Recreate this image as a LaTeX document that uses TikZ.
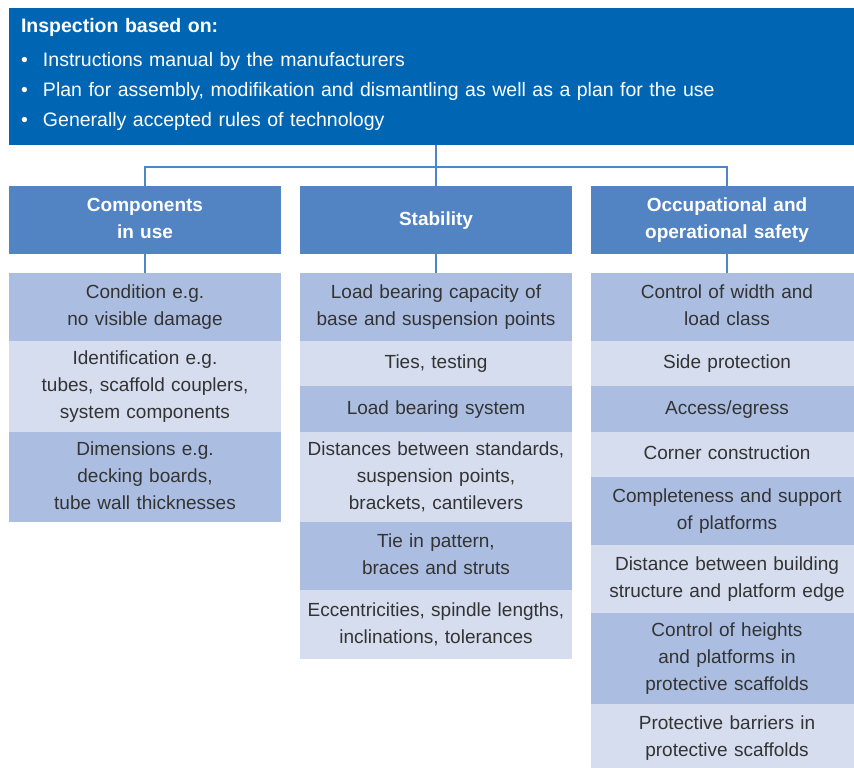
\documentclass[tikz,border=0pt]{standalone}
\usepackage{fontspec}
\setmainfont{Liberation Sans}
\usepackage{tikz}
\usetikzlibrary{positioning}
\definecolor{topblue}{RGB}{0,102,179}
\definecolor{headblue}{RGB}{82,132,196}
\definecolor{itemdark}{RGB}{171,190,226}
\definecolor{itemlight}{RGB}{213,221,239}
\definecolor{linkblue}{RGB}{74,136,200}
\definecolor{itemtext}{RGB}{51,51,51}

\begin{document}
\begin{tikzpicture}[
  x=1pt,y=-1pt,
  node distance=0pt,
  every node/.style={inner sep=0pt,outer sep=0pt},
  top/.style={fill=topblue,text=white,minimum width=870pt,minimum height=137pt,
    text width=846pt,inner xsep=12pt,align=left,font=\fontsize{19.5}{30}\selectfont},
  head/.style={fill=headblue,text=white,minimum width=272pt,minimum height=68pt,
    text width=268pt,align=center,font=\fontsize{19}{27}\selectfont\bfseries,
    execute at begin node=\strut,execute at end node=\strut},
  item/.style={fill=itemdark,text=itemtext,minimum width=272pt,minimum height=#1,
    text width=268pt,align=center,font=\fontsize{19}{27}\selectfont,
    execute at begin node=\strut,execute at end node=\strut},
  item/.default=68pt,
  pale/.style={item=#1,fill=itemlight},
  pale/.default=68pt,
  link/.style={draw=linkblue,line width=1.5pt}
  ]
  \useasboundingbox (0,0) rectangle (854,768);
  \clip (0,0) rectangle (854,768);
  % h-header c-components s-stability o-occupational safety
  \node [top,anchor=north west] (top) at (9,8) {{\bfseries Inspection based on:}\\[4pt]
    \makebox[22pt][l]{\textbullet}Instructions manual by the manufacturers\\
    \makebox[22pt][l]{\textbullet}Plan for assembly, modifikation and dismantling as well as a plan for the use\\
    \makebox[22pt][l]{\textbullet}Generally accepted rules of technology\rule[-9pt]{0pt}{1pt}};
  \node [head,anchor=north west] (h1) at (9,186) {Components\\in use};
  \node [head] (h2) [right=19pt of h1] {Stability};
  \node [head] (h3) [right=19pt of h2] {Occupational and\\operational safety};

  \node [item]       (c1) [below=19pt of h1] {Condition e.g.\\no visible damage};
  \node [pale=91pt]  (c2) [below=of c1] {Identification e.g.\\tubes, scaffold couplers,\\system components};
  \node [item=90pt]  (c3) [below=of c2] {Dimensions e.g.\\decking boards,\\tube wall thicknesses};

  \node [item]       (s1) [below=19pt of h2] {Load bearing capacity of\\base and suspension points};
  \node [pale=45pt]  (s2) [below=of s1] {Ties, testing};
  \node [item=46pt]  (s3) [below=of s2] {Load bearing system};
  \node [pale=90pt]  (s4) [below=of s3] {Distances between standards,\\suspension points,\\brackets, cantilevers};
  \node [item]       (s5) [below=of s4] {Tie in pattern,\\braces and struts};
  \node [pale=69pt]  (s6) [below=of s5] {Eccentricities, spindle lengths,\\inclinations, tolerances};

  \node [item]       (o1) [below=19pt of h3] {Control of width and\\load class};
  \node [pale=45pt]  (o2) [below=of o1] {Side protection};
  \node [item=46pt]  (o3) [below=of o2] {Access/egress};
  \node [pale=45pt]  (o4) [below=of o3] {Corner construction};
  \node [item]       (o5) [below=of o4] {Completeness and support\\of platforms};
  \node [pale]       (o6) [below=of o5] {Distance between building\\structure and platform edge};
  \node [item=91pt]  (o7) [below=of o6] {Control of heights\\and platforms in\\protective scaffolds};
  \node [pale]       (o8) [below=of o7] {Protective barriers in\\protective scaffolds};

  \draw [link] (top.south -| h2.north) -- (h2.north);
  \draw [link] (h1.north) -- ++(0,-19) -| (h3.north);
  \foreach \h/\c in {h1/c1,h2/s1,h3/o1}
    \draw [link] (\h) -- (\c);
\end{tikzpicture}
\end{document}
